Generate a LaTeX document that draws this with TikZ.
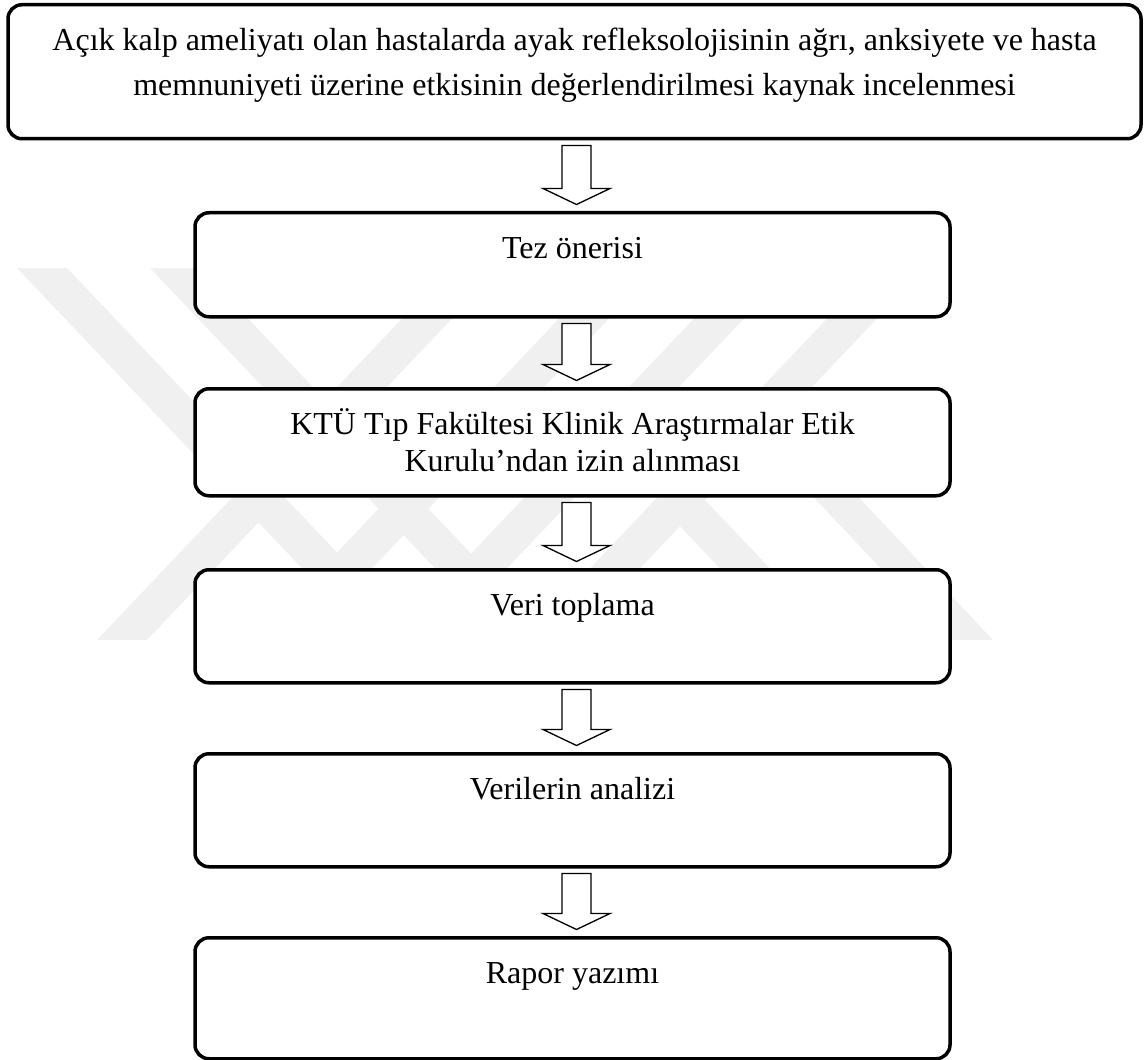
\documentclass[tikz,border=0pt]{standalone}
\usepackage{fontspec}
\setmainfont{Liberation Serif}
\usetikzlibrary{calc}

\begin{document}
\begin{tikzpicture}[x=1pt, y=-1pt,
        kutu/.style={draw, line width=3.5pt, rounded corners=14pt, fill=white, anchor=north,
            minimum width=755pt, inner xsep=0pt, inner ysep=0pt, text height=46pt,
            align=center, font=\fontsize{32}{37}\selectfont},
        ok/.style={draw, line width=1.3pt, fill=white, line join=miter},
        filigran/.style={fill=black!6}]
    \useasboundingbox (0,0) rectangle (1147,1059);

    % Filigran
    \foreach \t in {17, 150} { \fill[filigran] (\t,268) -- (\t+50,268) -- (\t+403,640) -- (\t+353,640) -- cycle; }
    \foreach \t in {450, 607, 742, 875} { \fill[filigran] (\t,268) -- (\t+50,268) -- (\t-303,640) -- (\t-353,640) -- cycle; }
    \fill[filigran] (740,419) -- (785,419) -- (993,640) -- (948,640) -- cycle;
    \fill[filigran] (655,500) -- (705,500) -- (838,640) -- (788,640) -- cycle;

    \node[kutu, minimum width=1133pt, text height=91pt, text depth=43pt, font=\fontsize{32}{45}\selectfont] (b1) at (574.5,3)
        {Açık kalp ameliyatı olan hastalarda ayak refleksolojisinin ağrı, anksiyete ve hasta\\memnuniyeti üzerine etkisinin değerlendirilmesi kaynak incelenmesi};
    \node[kutu, text depth=58pt] (b2) at (572.5,211) {Tez önerisi};
    \node[kutu, text height=83pt, text depth=24pt] (b3) at (572.5,387) {KTÜ Tıp Fakültesi Klinik Araştırmalar Etik\\Kurulu’ndan izin alınması};
    \node[kutu, text depth=67pt] (b4) at (572.5,568) {Veri toplama};
    \node[kutu, text depth=67pt] (b5) at (572.5,752) {Verilerin analizi};
    \node[kutu, text depth=75pt] (b6) at (572.5,936) {Rapor yazımı};

    % Oklar
    \foreach \a/\b in {b1/b2, b2/b3, b3/b4, b4/b5, b5/b6} {
        \draw[ok] let \p1=($(\a.south)+(4,5)$), \p2=($(\b.north)+(4,-6.5)$) in
            (\x2-14.5,\y1) -- (\x2+14.5,\y1) -- (\x2+14.5,\y2+16) -- (\x2+33.5,\y2+16)
            -- (\x2,\y2) -- (\x2-33.5,\y2+16) -- (\x2-14.5,\y2+16) -- cycle;
    }
\end{tikzpicture}
\end{document}
